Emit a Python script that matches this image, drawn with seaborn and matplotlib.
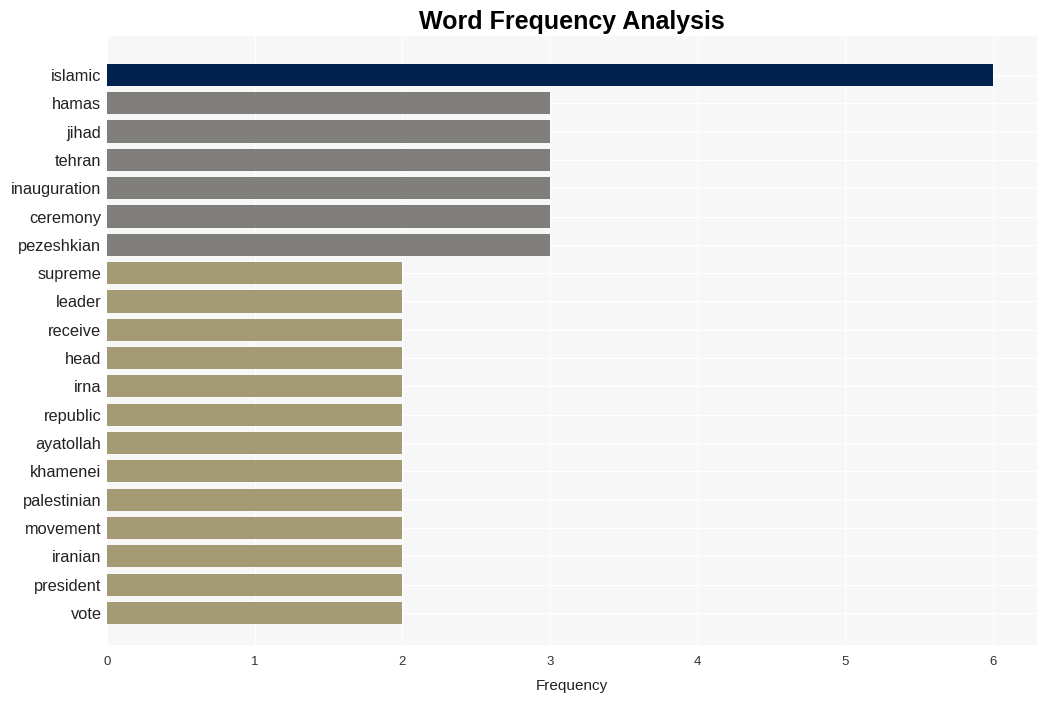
import pandas as pd
import matplotlib.pyplot as plt
import seaborn as sns

words = ["islamic", "hamas", "jihad", "tehran", "inauguration", "ceremony", "pezeshkian",
         "supreme", "leader", "receive", "head", "irna", "republic", "ayatollah",
         "khamenei", "palestinian", "movement", "iranian", "president", "vote"]
counts = [6, 3, 3, 3, 3, 3, 3, 2, 2, 2, 2, 2, 2, 2, 2, 2, 2, 2, 2, 2]

df = pd.DataFrame({"word": words, "count": counts})


def bar_color(c):
    if c >= 6:
        return "#00224e"
    if c >= 3:
        return "#7f7e7a"
    return "#a49b75"


palette = {w: bar_color(c) for w, c in zip(words, counts)}

sns.set_style("whitegrid")
plt.rcParams['font.family'] = ['Liberation Sans', 'DejaVu Sans']

fig = plt.figure(figsize=(10.46, 7.01), dpi=100)
ax = fig.add_axes([0.1023, 0.0799, 0.889, 0.869])
ax.set_facecolor("#f7f7f7")

sns.barplot(data=df, y="word", x="count", hue="word", palette=palette,
            legend=False, width=0.78, ax=ax, saturation=1, linewidth=0)

ax.set_xlim(0, 6.3)
ax.set_ylim(20.13, -1.38)
ax.set_xticks(range(0, 7))
ax.grid(True, color="white", linewidth=0.8)
ax.set_axisbelow(True)
for s in ax.spines.values():
    s.set_visible(False)

ax.set_title("Word Frequency Analysis", fontsize=18, fontweight="bold", pad=5, color="black")
ax.set_xlabel("Frequency", fontsize=11, labelpad=8, color="#222222")
ax.set_ylabel("")
ax.tick_params(axis="y", labelsize=11.8, length=0, pad=4, colors="#222222")
ax.tick_params(axis="x", labelsize=9.5, length=0, pad=8, colors="#333333")

fig.savefig("out.png", dpi=100)
